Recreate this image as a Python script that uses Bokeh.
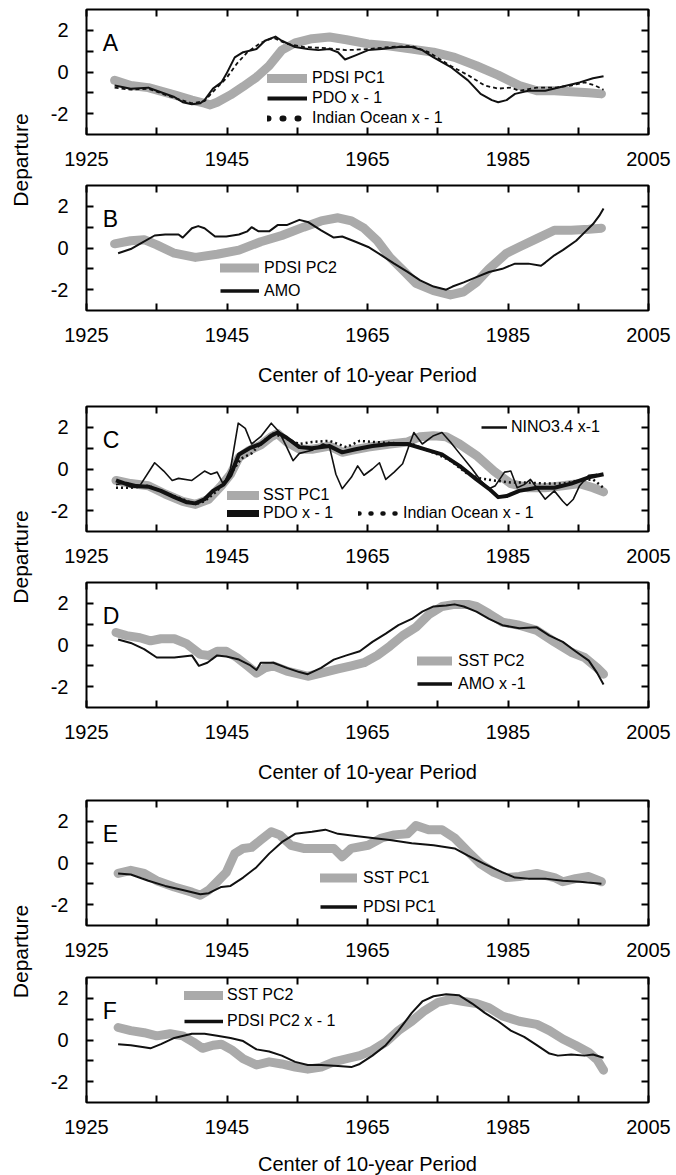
import math
from bokeh.plotting import figure
from bokeh.models import (Range1d, LinearAxis, FixedTicker, Legend, LegendItem, Label,
                          CustomLabelingPolicy)
from bokeh.layouts import row, column
from bokeh.embed import file_html
from bokeh.resources import INLINE

# ---------------- data ----------------
x_ticks = [1925, 1935, 1945, 1955, 1965, 1975, 1985, 1995, 2005]
x_tick_labels = ["1925", "", "1945", "", "1965", "", "1985", "", "2005"]
y_ticks = [-2, -1, 0, 1, 2]
y_tick_labels = ["-2", "", "0", "", "2"]
y_label = "Departure"
x_title = "Center of 10-year Period"

# Panel A
a_pdsi_pc1_yr = [1929, 1931.3, 1933.8, 1937.5, 1940, 1941.8, 1942.6, 1943.6, 1945.5, 1947.3, 1949.2, 1951, 1952.8,
                 1954.7, 1957.1, 1959.6, 1962, 1965.1, 1968.2, 1971.3, 1974.4, 1977.4, 1980.5, 1983.6, 1986.6,
                 1989.1, 1991.6, 1994, 1996.5, 1998.3]
a_pdsi_pc1 = [-0.4, -0.65, -0.75, -1.1, -1.35, -1.5, -1.58, -1.45, -1.1, -0.7, -0.25, 0.3, 1.05,
              1.4, 1.6, 1.68, 1.55, 1.35, 1.25, 1.1, 0.95, 0.7, 0.3, -0.15, -0.65,
              -0.9, -0.9, -0.95, -1.0, -1.05]
a_pdo_yr = [1929, 1931.3, 1933.8, 1935, 1937.5, 1938.7, 1940, 1941.2, 1941.8, 1943, 1944.2, 1944.9, 1946.1,
            1947.3, 1949.2, 1950.4, 1951.9, 1952.8, 1954.7, 1956.5, 1958, 1959.6, 1960.8, 1961.8, 1963.3,
            1965.1, 1967, 1969.4, 1971.3, 1972.8, 1974.4, 1976.8, 1979.3, 1981.1, 1982.7, 1983.6, 1984.8,
            1986, 1987.9, 1990.3, 1992.8, 1995.2, 1997.1, 1998.6]
a_pdo = [-0.65, -0.8, -0.75, -0.9, -1.2, -1.45, -1.55, -1.5, -1.35, -0.8, -0.5, -0.1, 0.7,
         0.95, 1.1, 1.5, 1.7, 1.5, 1.2, 1.1, 1.05, 1.1, 0.95, 0.6, 0.8,
         1.05, 1.1, 1.2, 1.2, 1.05, 0.7, 0.25, -0.4, -1.05, -1.35, -1.45, -1.35,
         -1.05, -0.9, -0.9, -0.7, -0.5, -0.3, -0.2]
a_io_yr = [1929, 1931.3, 1933.8, 1937.5, 1940, 1941.8, 1943, 1944.9, 1946.4, 1947.9, 1949.8, 1951.6, 1953.5,
           1955.9, 1959, 1962, 1965.1, 1968.2, 1971.3, 1973.7, 1976.8, 1979.3, 1981.7, 1983.6, 1985.4,
           1986.6, 1989.1, 1991.6, 1994, 1995.9, 1997.4, 1998.6]
a_io = [-0.75, -0.85, -0.8, -1.25, -1.5, -1.4, -0.95, -0.3, 0.4, 0.95, 1.4, 1.65, 1.35,
        1.2, 1.15, 1.05, 1.1, 1.2, 1.25, 0.95, 0.3, -0.15, -0.65, -0.8, -0.75,
        -0.9, -0.75, -0.75, -0.65, -0.5, -0.65, -0.85]

# Panel B
b_pdsi_pc2_yr = [1929, 1931.3, 1933.2, 1935, 1937.5, 1940.5, 1943.6, 1946.7, 1949.8, 1952.8, 1955.9, 1958.4,
                 1960.8, 1962.7, 1964.5, 1966.4, 1968.2, 1970, 1971.9, 1974.4, 1976.8, 1978.7, 1980.5, 1982.3,
                 1984.8, 1986.6, 1989.1, 1991.6, 1994, 1996.5, 1998.3]
b_pdsi_pc2 = [0.2, 0.35, 0.4, 0.15, -0.25, -0.45, -0.3, -0.1, 0.3, 0.6, 1.0, 1.3,
              1.45, 1.3, 0.95, 0.35, -0.45, -1.05, -1.7, -2.05, -2.25, -2.1, -1.65, -1.0,
              -0.25, 0.05, 0.45, 0.85, 0.85, 0.9, 0.95]
b_amo_yr = [1929.5, 1931.3, 1932.6, 1934.7, 1936.2, 1938.1, 1938.7, 1940, 1940.9, 1941.8, 1943.3, 1944.9,
            1946.7, 1947.9, 1948.5, 1949.5, 1951, 1952.2, 1953.5, 1955.3, 1956.5, 1958.4, 1960.2, 1961.4,
            1963.3, 1965.1, 1967, 1968.8, 1970.7, 1972.5, 1974.4, 1976.2, 1977.1, 1978.7, 1980.5, 1982.3,
            1984.2, 1986, 1987.9, 1989.7, 1990.3, 1991.6, 1992.8, 1994.7, 1995.9, 1997.1, 1998, 1998.6]
b_amo = [-0.25, -0.05, 0.2, 0.6, 0.65, 0.65, 0.5, 0.95, 1.05, 0.95, 0.55, 0.55,
         0.65, 0.8, 1.0, 0.8, 0.8, 1.1, 1.1, 1.35, 1.25, 0.85, 0.5, 0.55,
         0.3, 0.05, -0.35, -0.75, -1.15, -1.55, -1.85, -2.0, -1.85, -1.65, -1.4, -1.15,
         -1.0, -0.75, -0.75, -0.85, -0.7, -0.35, -0.1, 0.35, 0.75, 1.15, 1.55, 1.9]

# Panel C
c_sst_pc1_yr = [1929.2, 1931.3, 1933.8, 1936.2, 1938.7, 1940.5, 1942.4, 1944.2, 1945.5, 1946.7, 1948.2, 1949.8,
                1951.3, 1952.2, 1953.5, 1955.3, 1957.1, 1959.6, 1961.4, 1962.7, 1965.1, 1968.2, 1970.7, 1972.5,
                1974.4, 1976.2, 1978.1, 1980.5, 1983, 1985.4, 1987.9, 1990.3, 1992.8, 1995.2, 1997.1, 1998.6]
c_sst_pc1 = [-0.55, -0.7, -0.8, -1.2, -1.55, -1.7, -1.45, -0.8, -0.25, 0.55, 0.9, 1.15,
             1.55, 1.7, 1.3, 0.95, 0.95, 1.1, 0.8, 0.9, 1.05, 1.2, 1.3, 1.55,
             1.6, 1.55, 1.2, 0.65, -0.1, -0.7, -0.9, -0.9, -0.8, -0.7, -0.9, -1.1]
c_pdo_yr = [1929.2, 1931.3, 1933.8, 1935.6, 1937.5, 1939.3, 1940.5, 1941.8, 1943, 1944.5, 1945.5, 1946.7,
            1948.2, 1949.8, 1951.3, 1952.2, 1953.5, 1955.3, 1957.1, 1959.6, 1961.4, 1963.3, 1965.7, 1968.2,
            1970.7, 1973.1, 1975.6, 1978.1, 1980.5, 1982.3, 1983.6, 1984.8, 1986.6, 1989.1, 1991.6, 1994,
            1996.5, 1998.6]
c_pdo = [-0.55, -0.8, -0.85, -1.05, -1.35, -1.6, -1.65, -1.45, -1.05, -0.75, -0.3, 0.7,
         1.0, 1.2, 1.6, 1.75, 1.5, 1.05, 1.0, 1.1, 0.8, 0.95, 1.1, 1.2,
         1.2, 0.95, 0.7, 0.15, -0.5, -0.95, -1.35, -1.3, -1.05, -0.9, -0.9, -0.7,
         -0.4, -0.25]
c_nino_yr = [1929.2, 1930.7, 1932.6, 1934.7, 1936, 1937.2, 1938.1, 1940, 1941.8, 1942.7, 1943.6, 1944.5,
             1945.5, 1946.6, 1947.6, 1948.5, 1949.8, 1951.3, 1952.5, 1953.5, 1954.4, 1955.3, 1957.1, 1958.7,
             1959.6, 1960.5, 1961.4, 1962.7, 1963.6, 1964.5, 1965.7, 1966.7, 1967.6, 1968.8, 1970, 1971,
             1971.6, 1972.8, 1974.4, 1975.6, 1976.8, 1978.1, 1979.9, 1981.1, 1982.3, 1983.2, 1984.5, 1985.4,
             1986.3, 1987.3, 1988.2, 1989.1, 1990.3, 1991.6, 1992.8, 1993.4, 1994.3, 1995.2, 1996.5, 1997.7]
c_nino = [-0.75, -0.65, -0.8, 0.3, -0.1, -0.55, -0.45, -0.55, -0.1, -0.25, -0.15, -0.75,
          0.0, 2.2, 1.95, 1.2, 1.55, 2.2, 1.75, 1.05, 0.4, 0.75, 0.9, 1.2,
          1.05, -0.25, -0.95, -0.4, 0.15, -0.3, 0.0, 0.3, -0.5, -0.15, 0.25, 1.2,
          1.75, 1.2, 1.6, 1.75, 1.3, 0.75, 0.0, -0.55, -0.95, -0.8, -0.15, -0.1,
          -0.9, -0.75, -0.5, -0.9, -1.45, -1.05, -1.55, -1.75, -1.45, -0.8, -0.3, -0.25]
c_io_yr = [1929.2, 1931.3, 1933.8, 1936.2, 1938.7, 1940.5, 1941.8, 1943.6, 1945.5, 1947, 1948.5, 1950,
           1951.6, 1953.5, 1955.3, 1957.1, 1959.6, 1962, 1963.9, 1965.7, 1968.2, 1971.3, 1973.1, 1975,
           1976.8, 1979.3, 1981.1, 1983, 1985.4, 1987.9, 1990.3, 1992.8, 1995.2, 1997.1, 1998.6]
c_io = [-0.9, -0.9, -0.8, -1.15, -1.45, -1.7, -1.55, -1.05, -0.25, 0.5, 0.75, 1.3,
        1.7, 1.45, 1.2, 1.3, 1.35, 1.05, 1.35, 1.3, 1.25, 1.2, 0.95, 0.7,
        0.4, -0.25, -0.45, -0.55, -0.65, -0.65, -0.7, -0.7, -0.55, -0.5, -0.9]

# Panel D
d_sst_pc2_yr = [1929.2, 1930.7, 1932.6, 1934.1, 1935.6, 1937.5, 1939.3, 1941.2, 1942.4, 1943.6, 1944.9, 1946.4,
                1947.9, 1949.2, 1950.4, 1951.6, 1953.5, 1955.3, 1956.5, 1958.4, 1960.8, 1962.7, 1964.5, 1966.4,
                1968.2, 1970, 1971.9, 1973.7, 1975.6, 1977.4, 1979.3, 1980.5, 1982.3, 1984.2, 1986.6, 1989.1,
                1991.6, 1994, 1995.9, 1997.7, 1998.6]
d_sst_pc2 = [0.6, 0.45, 0.35, 0.2, 0.3, 0.3, 0.05, -0.45, -0.5, -0.3, -0.3, -0.6,
             -1.0, -1.35, -1.1, -1.0, -1.25, -1.4, -1.5, -1.35, -1.15, -1.0, -0.85, -0.5,
             -0.05, 0.45, 0.85, 1.45, 1.85, 1.95, 1.95, 1.85, 1.5, 1.1, 0.95, 0.7,
             0.15, -0.35, -0.6, -1.1, -1.4]
d_amo_yr = [1929.5, 1931.3, 1933.2, 1935, 1937.5, 1940, 1941, 1942.2, 1943.6, 1944.9, 1946.7, 1948.2,
            1949.2, 1949.8, 1951.6, 1953.5, 1955.3, 1956.5, 1958.4, 1960.2, 1962, 1963.9, 1965.7, 1967.6,
            1969.4, 1971.3, 1972.8, 1974.4, 1976.2, 1977.4, 1978.7, 1980.5, 1982.3, 1984.2, 1986.6, 1989.1,
            1990.9, 1992.8, 1994.6, 1996.5, 1997.7, 1998.6]
d_amo = [0.26, 0.1, -0.2, -0.6, -0.6, -0.5, -1.0, -0.85, -0.5, -0.55, -0.7, -0.95,
         -1.2, -0.85, -0.85, -1.1, -1.3, -1.4, -1.1, -0.7, -0.5, -0.3, 0.15, 0.55,
         0.95, 1.25, 1.6, 1.85, 1.9, 1.95, 1.85, 1.6, 1.25, 0.95, 0.8, 0.85,
         0.45, 0.15, -0.3, -0.75, -1.35, -1.9]

# Panel E
e_sst_pc1_yr = [1929.5, 1931.3, 1933.2, 1935, 1937.5, 1940, 1941.2, 1942.4, 1943.6, 1944.9, 1946.1, 1947.3,
                1948.5, 1949.8, 1951.3, 1952.5, 1954.1, 1955.9, 1958.4, 1960.2, 1961.4, 1962.7, 1965.1, 1967,
                1968.8, 1970.7, 1971.9, 1973.7, 1975.6, 1977.4, 1979.3, 1981.1, 1983, 1984.8, 1986.6, 1989.1,
                1991.6, 1992.8, 1994.6, 1996.5, 1998.3]
e_sst_pc1 = [-0.5, -0.35, -0.5, -0.85, -1.15, -1.4, -1.55, -1.3, -0.9, -0.45, 0.45, 0.7,
             0.75, 1.1, 1.5, 1.35, 0.85, 0.7, 0.7, 0.7, 0.3, 0.7, 0.85, 1.2,
             1.35, 1.4, 1.8, 1.6, 1.6, 1.2, 0.55, -0.05, -0.45, -0.7, -0.65, -0.5,
             -0.7, -0.9, -0.75, -0.65, -0.9]
e_pdsi_pc1_yr = [1929.5, 1931.3, 1933.8, 1936.2, 1938.7, 1941.2, 1942.4, 1944.2, 1945.5, 1947.3, 1949.2, 1951,
                 1952.8, 1954.7, 1957.1, 1959, 1960.8, 1963.3, 1965.7, 1968.2, 1971.3, 1974.4, 1977.4, 1979.3,
                 1981.7, 1984.2, 1986, 1987.9, 1990.3, 1992.8, 1995.2, 1998.3]
e_pdsi_pc1 = [-0.5, -0.55, -0.85, -1.1, -1.3, -1.5, -1.45, -1.15, -1.1, -0.7, -0.2, 0.45,
              1.0, 1.4, 1.5, 1.6, 1.4, 1.3, 1.2, 1.1, 0.95, 0.85, 0.7, 0.35,
              -0.05, -0.45, -0.7, -0.75, -0.75, -0.85, -0.9, -1.0]

# Panel F
f_sst_pc2_yr = [1929.5, 1931.3, 1933.2, 1935, 1936.9, 1938.7, 1940.2, 1941.5, 1943, 1944.2, 1945.8, 1947.3,
                1949.2, 1951, 1952.8, 1954.7, 1956.5, 1958.4, 1960.2, 1962, 1963.9, 1965.7, 1967.6, 1969.4,
                1971.3, 1973.1, 1975, 1976.8, 1978.7, 1980.5, 1982.3, 1984.2, 1986.6, 1989.1, 1990.9, 1992.8,
                1994.6, 1996.5, 1997.7, 1998.6]
f_sst_pc2 = [0.6, 0.45, 0.35, 0.2, 0.3, 0.2, -0.1, -0.4, -0.25, -0.2, -0.5, -0.9,
             -1.2, -1.05, -1.15, -1.3, -1.4, -1.3, -1.05, -0.9, -0.75, -0.5, -0.1, 0.45,
             0.9, 1.4, 1.8, 1.95, 1.85, 1.75, 1.55, 1.15, 0.9, 0.75, 0.45, 0.05,
             -0.25, -0.6, -0.95, -1.45]
f_pdsi_pc2_yr = [1929.5, 1931.3, 1933.2, 1934.1, 1935.6, 1937.5, 1940, 1941.8, 1943.6, 1945.5, 1947.3, 1949.2,
                 1951, 1952.8, 1954.7, 1956.5, 1958.4, 1960.8, 1962.7, 1963.9, 1965.7, 1967.6, 1969.4, 1971.3,
                 1972.8, 1974.4, 1976.2, 1978, 1979.9, 1981.7, 1983.6, 1985.4, 1987.3, 1989.1, 1990.9, 1992.1,
                 1994, 1995.9, 1997.1, 1998.6]
f_pdsi_pc2 = [-0.2, -0.25, -0.35, -0.4, -0.2, 0.1, 0.3, 0.3, 0.2, 0.1, -0.05, -0.45,
              -0.55, -0.75, -1.05, -1.2, -1.2, -1.25, -1.3, -1.15, -0.75, -0.25, 0.45, 1.3,
              1.85, 2.1, 2.2, 2.15, 1.75, 1.3, 0.9, 0.45, 0.15, -0.25, -0.65, -0.75,
              -0.7, -0.75, -0.7, -0.85]

# ---------------- styling ----------------
FONT = "Liberation Sans"
GRAY = "#aaaaaa"
BLACK = "#111111"
FRAME_W, FRAME_H = 562, 125
SIDE_W = 43
BORDER_L, BORDER_R = 43, 24
TOTAL_H = 1175

EVERY_OTHER = """
const out = []
for (const i of indices) { if (i % 2 == 0) out.push(i) }
return out
"""
NONE_SHOWN = """
return []
"""


def make_panel(letter, top, bottom, title_standoff=None):
    p = figure(frame_width=FRAME_W, frame_height=FRAME_H,
               x_range=Range1d(1925, 2005), y_range=Range1d(-3, 3),
               x_axis_type=None, y_axis_type=None,
               output_backend="svg", toolbar_location=None,
               min_border_left=BORDER_L, min_border_right=BORDER_R,
               min_border_top=top, min_border_bottom=bottom)
    p.outline_line_color = "black"
    p.outline_line_width = 2
    p.outline_line_alpha = 1.0
    p.background_fill_color = "white"
    p.border_fill_color = "white"
    xo = dict(zip(x_ticks, x_tick_labels))
    yo = dict(zip(y_ticks, y_tick_labels))
    common = dict(axis_line_color=None, major_tick_in=7, major_tick_out=0,
                  major_tick_line_width=2, major_tick_line_color="black",
                  minor_tick_line_color=None,
                  major_label_text_font=FONT, major_label_text_color="black")
    below = LinearAxis(ticker=FixedTicker(ticks=x_ticks), major_label_overrides=xo,
                       major_label_policy=CustomLabelingPolicy(code=EVERY_OTHER),
                       major_label_text_font_size="20px", major_label_standoff=17, **common)
    if title_standoff is not None:
        below.axis_label = x_title
        below.axis_label_text_font = FONT
        below.axis_label_text_font_size = "20px"
        below.axis_label_text_font_style = "normal"
        below.axis_label_text_color = "black"
        below.axis_label_standoff = title_standoff
    # mirrored tick marks on top and right, no labels
    above = LinearAxis(ticker=FixedTicker(ticks=x_ticks),
                       major_label_policy=CustomLabelingPolicy(code=NONE_SHOWN),
                       major_label_text_font_size="0px", major_label_standoff=0, **common)
    left = LinearAxis(ticker=FixedTicker(ticks=y_ticks), major_label_overrides=yo,
                      major_label_policy=CustomLabelingPolicy(code=EVERY_OTHER),
                      major_label_text_font_size="20px", major_label_standoff=18, **common)
    right = LinearAxis(ticker=FixedTicker(ticks=y_ticks),
                       major_label_policy=CustomLabelingPolicy(code=NONE_SHOWN),
                       major_label_text_font_size="0px", major_label_standoff=0, **common)
    p.add_layout(below, "below")
    p.add_layout(above, "above")
    p.add_layout(left, "left")
    p.add_layout(right, "right")
    p.add_layout(Label(x=1927.3, y=1.37, text=letter, text_font=FONT, text_font_size="23px",
                       text_color="black", text_align="left", text_baseline="alphabetic"))
    return p


def add_legend(p, entries, vx, vy, glyph_w, standoff, row_h):
    items = [LegendItem(label=t, renderers=[r]) for t, r in entries]
    lg = Legend(items=items, location=(vx, vy), orientation="vertical",
                padding=0, margin=0, spacing=0,
                glyph_width=glyph_w, glyph_height=row_h, label_height=row_h,
                label_standoff=standoff, label_text_font=FONT, label_text_font_size="16px",
                label_text_color="black", border_line_color=None,
                background_fill_alpha=0)
    p.add_layout(lg)


def gray_line(p, x, y):
    return p.line(x, y, line_color=GRAY, line_width=9, line_cap="round", line_join="round")


def black_line(p, x, y, w=2, dash="solid"):
    return p.line(x, y, line_color=BLACK, line_width=w, line_join="round", line_dash=dash)


def swatch(p, x, y, w, dash="solid", cap="butt"):
    # legend-only swatch: a single point of the series draws nothing in the plot
    return p.line(x[:1], y[:1], line_color=BLACK, line_width=w, line_dash=dash, line_cap=cap)


# Panel A
pA = make_panel("A", 9, 46)
rA1 = gray_line(pA, a_pdsi_pc1_yr, a_pdsi_pc1)
rA3 = black_line(pA, a_io_yr, a_io, 1.8, "4 3")
rA2 = black_line(pA, a_pdo_yr, a_pdo, 2)
add_legend(pA, [("PDSI PC1", rA1), ("PDO x - 1", swatch(pA, a_pdo_yr, a_pdo, 4)),
                ("Indian Ocean x - 1", swatch(pA, a_io_yr, a_io, 6, "1 14", "round"))], 181, 6, 40, 5, 20)

# Panel B
pB = make_panel("B", 5, 86, title_standoff=19)
rB1 = gray_line(pB, b_pdsi_pc2_yr, b_pdsi_pc2)
rB2 = black_line(pB, b_amo_yr, b_amo, 2)
add_legend(pB, [("PDSI PC2", rB1), ("AMO", swatch(pB, b_amo_yr, b_amo, 3.5))], 134, 8, 39, 5, 23)

# Panel C
pC = make_panel("C", 10, 45)
rC1 = gray_line(pC, c_sst_pc1_yr, c_sst_pc1)
rC4 = black_line(pC, c_nino_yr, c_nino, 1.6)
rC3 = black_line(pC, c_io_yr, c_io, 2.5, "2 3")
rC2 = black_line(pC, c_pdo_yr, c_pdo, 4)
add_legend(pC, [("SST PC1", rC1), ("PDO x - 1", swatch(pC, c_pdo_yr, c_pdo, 7, "solid", "round"))],
           141, 9, 32, 4, 18)
add_legend(pC, [("Indian Ocean x - 1", swatch(pC, c_io_yr, c_io, 4.5, "1 11", "round"))], 272, 9, 41, 4, 18)
add_legend(pC, [("NINO3.4 x-1", swatch(pC, c_nino_yr, c_nino, 2.5))], 395, 95, 26, 4, 18)

# Panel D
pD = make_panel("D", 6, 83, title_standoff=19)
rD1 = gray_line(pD, d_sst_pc2_yr, d_sst_pc2)
rD2 = black_line(pD, d_amo_yr, d_amo, 2)
add_legend(pD, [("SST PC2", rD1), ("AMO x -1", swatch(pD, d_amo_yr, d_amo, 3.5))], 331, 12, 35, 6, 23)

# Panel E
pE = make_panel("E", 10, 46)
rE1 = gray_line(pE, e_sst_pc1_yr, e_sst_pc1)
rE2 = black_line(pE, e_pdsi_pc1_yr, e_pdsi_pc1, 2)
add_legend(pE, [("SST PC1", rE1), ("PDSI PC1", swatch(pE, e_pdsi_pc1_yr, e_pdsi_pc1, 3.5))], 234, 4, 37, 6, 29)

# Panel F
pF = make_panel("F", 6, 73, title_standoff=16)
rF1 = gray_line(pF, f_sst_pc2_yr, f_sst_pc2)
rF2 = black_line(pF, f_pdsi_pc2_yr, f_pdsi_pc2, 2)
add_legend(pF, [("SST PC2", rF1), ("PDSI PC2 x - 1", swatch(pF, f_pdsi_pc2_yr, f_pdsi_pc2, 3.5))],
           98, 68, 39, 4, 26)

# Shared "Departure" labels in a narrow side figure
side = figure(frame_width=SIDE_W, frame_height=TOTAL_H, x_range=Range1d(0, SIDE_W), y_range=Range1d(TOTAL_H, 0),
              x_axis_type=None, y_axis_type=None, output_backend="svg", toolbar_location=None,
              min_border=0, outline_line_color=None)
side.background_fill_color = "white"
side.border_fill_color = "white"
for yc in (159.5, 556.5, 951):
    side.add_layout(Label(x=20, y=yc, text=y_label, angle=math.pi / 2, text_font=FONT,
                          text_font_size="21px", text_color="black",
                          text_align="center", text_baseline="middle"))

layout = row(side, column(pA, pB, pC, pD, pE, pF))
open("out.html", "w").write(file_html(layout, INLINE))
